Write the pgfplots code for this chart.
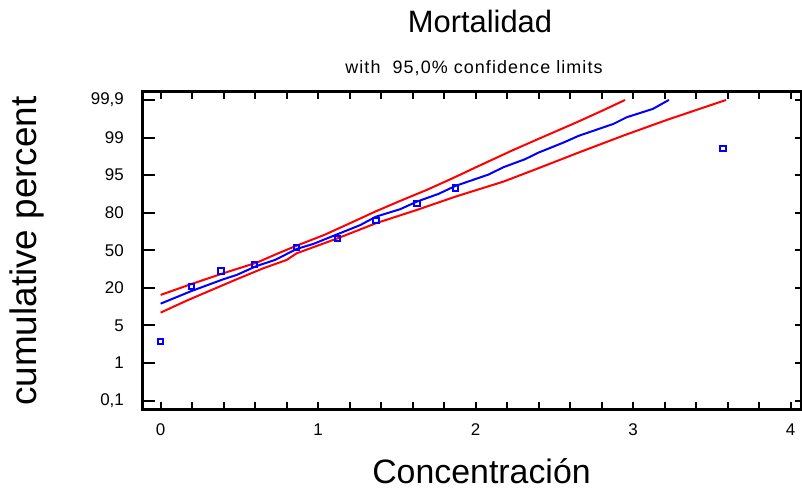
\documentclass[border=0pt]{standalone}
\usepackage{fontspec}
\setmainfont{Liberation Sans}
\usepackage{pgfplots}
\usepackage{pgfplotstable}
\pgfplotsset{compat=1.18}

% probability axis: the labels 0,1 ... 99,9 sit at equal steps 0..8
\pgfplotstableread{
x y
0.001 1.57
0.198 3.03
0.384 3.45
0.596 3.62
0.865 4.08
1.123 4.31
1.368 4.79
1.627 5.24
1.872 5.66
3.570 6.71
}\tabobs

\pgfplotstableread{
x y
0.001 2.581
0.198 2.919
0.399 3.230
0.484 3.345
0.611 3.584
0.727 3.744
0.865 4.037
0.970 4.170
1.123 4.428
1.266 4.667
1.368 4.896
1.521 5.093
1.627 5.295
1.764 5.500
1.872 5.713
2.081 6.014
2.177 6.211
2.314 6.424
2.399 6.599
2.557 6.865
2.653 7.044
2.875 7.363
2.960 7.541
3.125 7.762
3.227 8.000
}\tabfit

\pgfplotstableread{
x y
0.001 2.813
0.198 3.105
0.399 3.390
0.611 3.672
0.738 3.904
0.865 4.125
1.044 4.417
1.203 4.721
1.368 5.040
1.521 5.314
1.690 5.607
1.849 5.907
2.003 6.211
2.230 6.652
2.399 6.964
2.643 7.408
2.801 7.709
2.949 8.000
}\tabup

\pgfplotstableread{
x y
0.001 2.342
0.166 2.661
0.325 2.946
0.484 3.230
0.653 3.523
0.801 3.744
0.865 3.922
1.119 4.311
1.368 4.721
1.627 5.074
1.872 5.428
2.177 5.828
2.399 6.184
2.643 6.583
2.938 7.052
3.214 7.469
3.590 8.000
}\tablow

\begin{document}
\begin{tikzpicture}
\path[use as bounding box] (-142.7bp,-82.7bp) rectangle (659.3bp,409.3bp);
\pgfplotsset{chartbox/.style={
  at={(0,0)}, anchor=south west,
  scale only axis, width=659bp, height=317.6bp,
  xmin=-0.113, xmax=4.07, ymin=-0.23, ymax=8.22,
}}
\begin{axis}[chartbox,
  axis line style={line width=2.5bp},
  every tick/.style={black, line width=2bp},
  major tick length=7bp, minor tick length=7bp,
  xtick={0,1,2,3,4}, minor x tick num=4,
  ytick={0,...,8},
  yticklabels={{0,1},1,5,20,50,80,95,99,{99,9}},
  ytick pos=right, yticklabel pos=left,
  xtick pos=both, xticklabel pos=bottom,
  /pgf/number format/assume math mode=true,
  tick label style={font=\fontsize{17}{20}\selectfont},
  yticklabel style={inner sep=0pt, anchor=east, xshift=-18.7bp},
  xticklabel style={inner sep=0pt, anchor=north, yshift=-14bp},
]
\addplot[red, line width=2bp] table {\tabup};
\addplot[red, line width=2bp] table {\tablow};
\addplot[blue, line width=2bp] table {\tabfit};
\addplot[only marks, mark=square, mark size=2.7bp, blue, line width=2bp] table {\tabobs};
\end{axis}
\begin{axis}[chartbox, hide x axis,
  axis line style={draw=none},
  every tick/.style={black, line width=2bp},
  major tick length=12bp,
  ytick={0,...,8}, yticklabels={}, ytick pos=left,
]
\end{axis}
\node[anchor=base, font=\fontsize{31}{34}\selectfont] at (337.3bp,376.3bp) {Mortalidad};
\node[anchor=base, font=\fontsize{18}{20}\selectfont\addfontfeature{LetterSpace=6}] at (331.3bp,335.3bp) {with\ \ 95,0\% confidence limits};
\node[anchor=base, font=\fontsize{34}{38}\selectfont] at (338.8bp,-73.7bp) {Concentración};
\node[rotate=90, font=\fontsize{37}{40}\selectfont] at (-115.7bp,158.3bp) {cumulative percent};
\end{tikzpicture}
\end{document}
